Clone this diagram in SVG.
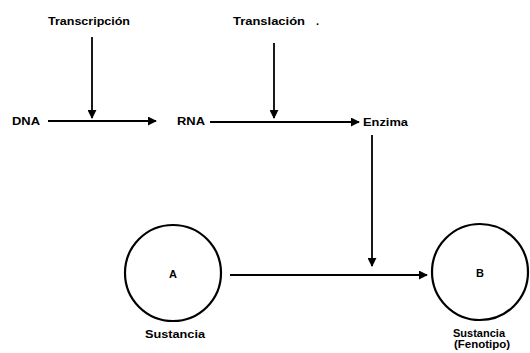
<svg xmlns="http://www.w3.org/2000/svg" width="530" height="353" viewBox="0 0 530 353">
  <style>
    text { font-family: "Liberation Sans", Arial, sans-serif; font-weight: bold; font-size: 11px; fill: #000; }
    .mid { text-anchor: middle; }
    .link { stroke: #000; stroke-width: 1.8; fill: none; marker-end: url(#head); }
    .node { stroke: #000; stroke-width: 2.2; fill: #fff; }
  </style>
  <defs>
    <marker id="head" viewBox="0 0 10 10" refX="9" refY="5" markerWidth="5" markerHeight="5" markerUnits="strokeWidth" orient="auto">
      <path d="M0,0 L10,5 L0,10 Z" fill="#000"/>
    </marker>
  </defs>

  <rect width="530" height="353" fill="#fff"/>

  <!-- connectors -->
  <g id="connectors">
    <line class="link" x1="92" y1="37" x2="92" y2="118"/>
    <line class="link" x1="48" y1="121" x2="156" y2="121"/>
    <line class="link" x1="274" y1="43" x2="274" y2="118"/>
    <line class="link" x1="210" y1="122" x2="359" y2="122"/>
    <line class="link" x1="372" y1="135" x2="372" y2="266"/>
    <line class="link" x1="230" y1="275" x2="427" y2="275"/>
  </g>

  <!-- process labels -->
  <g id="transcripcion">
    <text class="mid" x="89" y="25" textLength="82" lengthAdjust="spacingAndGlyphs">Transcripción</text>
  </g>
  <g id="translacion">
    <text x="233" y="25" textLength="72" lengthAdjust="spacingAndGlyphs">Translación</text>
    <text x="316" y="25">.</text>
  </g>

  <!-- molecules -->
  <g id="dna">
    <text x="12" y="125" textLength="28" lengthAdjust="spacingAndGlyphs">DNA</text>
  </g>
  <g id="rna">
    <text x="177" y="125" textLength="28" lengthAdjust="spacingAndGlyphs">RNA</text>
  </g>
  <g id="enzima">
    <text x="363" y="126" textLength="45" lengthAdjust="spacingAndGlyphs">Enzima</text>
  </g>

  <!-- substances -->
  <g id="sustancia-a">
    <circle class="node" cx="173" cy="273" r="48"/>
    <text class="mid" x="173" y="278">A</text>
    <text class="mid" x="175" y="338" textLength="60" lengthAdjust="spacingAndGlyphs">Sustancia</text>
  </g>
  <g id="sustancia-b">
    <circle class="node" cx="480" cy="272" r="48"/>
    <text class="mid" x="480" y="277">B</text>
    <text class="mid" x="479" y="337" textLength="52" lengthAdjust="spacingAndGlyphs">Sustancia</text>
    <text class="mid" x="482" y="348" textLength="56" lengthAdjust="spacingAndGlyphs">(Fenotipo)</text>
  </g>
</svg>
